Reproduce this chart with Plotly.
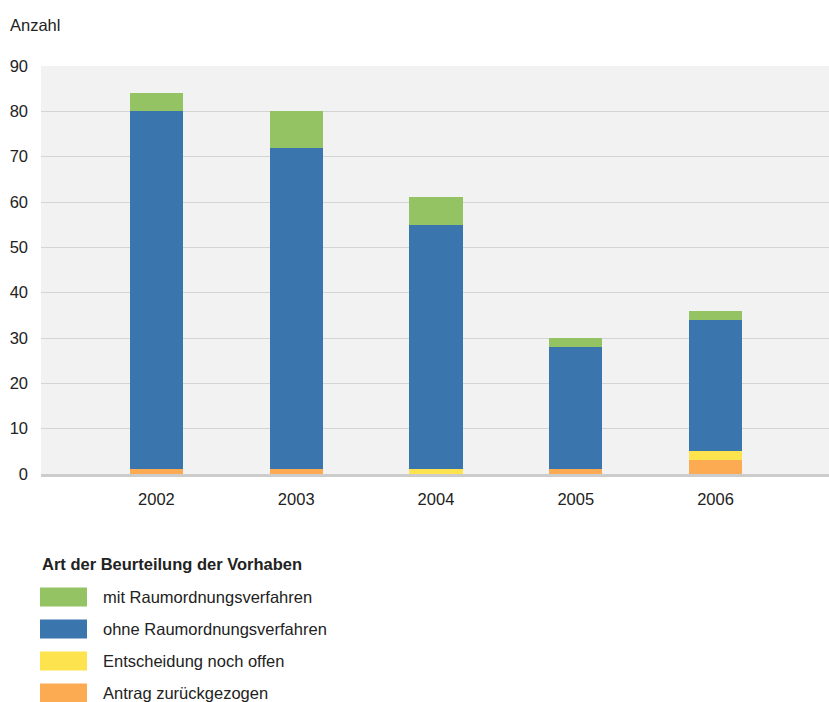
import plotly.graph_objects as go

years = ["2002", "2003", "2004", "2005", "2006"]
mit_rov = [4, 8, 6, 2, 2]
ohne_rov = [79, 71, 54, 27, 29]
offen = [0, 0, 1, 0, 2]
zurueck = [1, 1, 0, 1, 3]

series_names = [
    "Antrag zurückgezogen",
    "Entscheidung noch offen",
    "ohne Raumordnungsverfahren",
    "mit Raumordnungsverfahren",
]
series_values = [zurueck, offen, ohne_rov, mit_rov]
series_colors = ["#fdab52", "#fde44f", "#3a76ad", "#93c363"]

W, H = 829, 702
L, R, T, B = 41, 0, 66, 702 - 474
pw, ph = W - L - R, H - T - B
FONT = "Liberation Sans, Arial, sans-serif"
FS = 16.5

fig = go.Figure()
for name, vals, col in zip(series_names, series_values, series_colors):
    fig.add_trace(go.Bar(x=years, y=vals, name=name, marker_color=col,
                         marker_line_width=0, width=0.38, showlegend=False))


def px_x(x):
    return (x - L) / pw


def px_y(y):
    return (H - B - y) / ph


shapes, annos = [], []
annos.append(dict(text="Anzahl", x=px_x(8), y=px_y(25), xref="paper", yref="paper",
                  xanchor="left", yanchor="middle", showarrow=False,
                  font=dict(size=FS, color="#222")))
annos.append(dict(text="<b>Art der Beurteilung der Vorhaben</b>", x=px_x(40), y=px_y(564),
                  xref="paper", yref="paper", xanchor="left", yanchor="middle",
                  showarrow=False, font=dict(size=FS, color="#222")))
# legend in reverse stacking order, top item first
for i, (name, col) in enumerate(zip(series_names[::-1], series_colors[::-1])):
    cy = 597 + i * 32
    shapes.append(dict(type="rect", xref="paper", yref="paper",
                       x0=px_x(40), x1=px_x(87), y0=px_y(cy + 9.5), y1=px_y(cy - 9.5),
                       fillcolor=col, line_width=0))
    annos.append(dict(text=name, x=px_x(101), y=px_y(cy), xref="paper", yref="paper",
                      xanchor="left", yanchor="middle", showarrow=False,
                      font=dict(size=FS, color="#222")))

fig.update_layout(
    width=W, height=H,
    margin=dict(l=L, r=R, t=T, b=B, pad=0),
    barmode="stack",
    paper_bgcolor="white",
    plot_bgcolor="#f2f2f2",
    font=dict(family=FONT, size=FS, color="#222"),
    shapes=shapes,
    annotations=annos,
)
fig.update_yaxes(range=[0, 90], dtick=10, gridcolor="#d4d4d4", gridwidth=1,
                 zeroline=False, ticks="", ticklabelstandoff=12,
                 tickfont=dict(size=FS))
fig.update_xaxes(range=[-0.826, 4.812], showgrid=False, showline=True,
                 linecolor="#cccccc", linewidth=3, ticks="",
                 tickfont=dict(size=FS), ticklabelstandoff=8)

# figure fills the window exactly: no body margin, no scrollbars
fig.write_html(
    "out.html",
    config={"displayModeBar": False},
    post_script="document.body.style.margin='0';document.body.style.overflow='hidden';",
)
